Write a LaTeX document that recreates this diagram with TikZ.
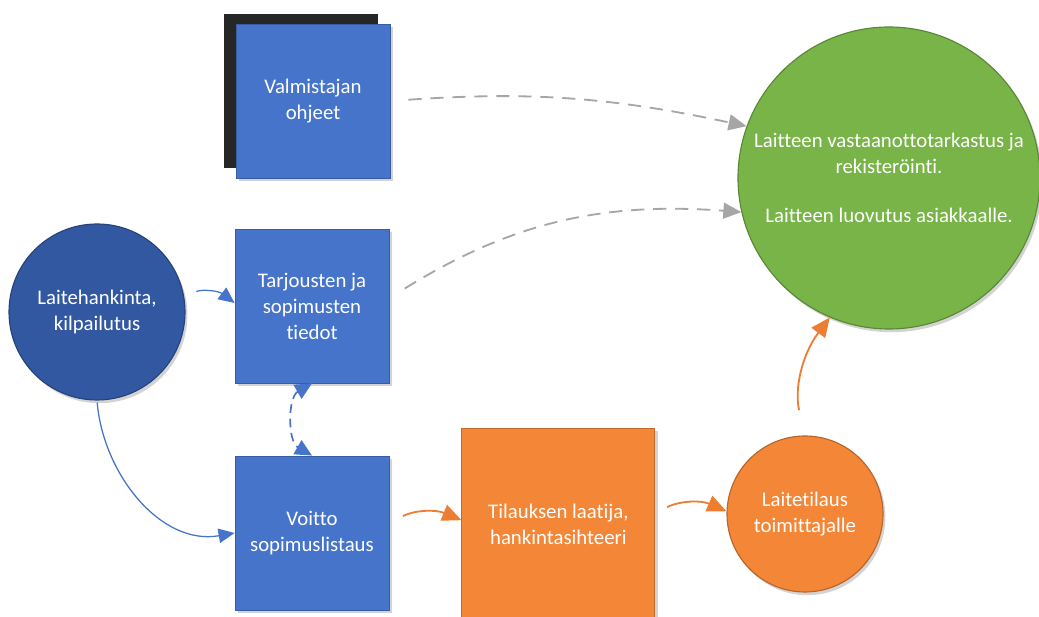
\documentclass[tikz,border=0pt]{standalone}
\usepackage{fontspec}
\setmainfont[Ligatures=NoCommon]{Carlito}
\usetikzlibrary{arrows.meta,positioning,shadows}
\definecolor{boxblue}{RGB}{70,116,202}
\definecolor{darkblue}{RGB}{50,88,162}
\definecolor{boxorange}{RGB}{243,134,55}
\definecolor{arroworange}{RGB}{237,125,49}
\definecolor{boxgreen}{RGB}{120,180,72}
\definecolor{arrowgray}{RGB}{166,166,166}

\begin{document}
\begin{tikzpicture}[
    lbl/.style={text=white, align=center, font=\fontsize{14.8}{18.5}\selectfont},
    box/.style={lbl, rectangle, minimum size=3.85cm, inner sep=0pt,
        draw=#1!80!black, line width=0.6pt, fill=#1,
        drop shadow={shadow xshift=0.07cm, shadow yshift=-0.07cm, opacity=0.35}},
    ball/.style={lbl, circle, inner sep=0pt, draw=#1!75!black, line width=0.8pt, fill=#1,
        drop shadow={shadow xshift=0.06cm, shadow yshift=-0.08cm, opacity=0.35}},
    tip/.style={-{Triangle[length=0.45cm,width=0.4cm]}},
    grayarrow/.style={tip, arrowgray, line width=1.3pt, dash pattern=on 0.33cm off 0.22cm},
    bluearrow/.style={-{Triangle[length=0.4cm,width=0.36cm]}, boxblue, line width=0.9pt},
    orangearrow/.style={-{Triangle[length=0.48cm,width=0.42cm]}, arroworange, line width=1.3pt}
]
\useasboundingbox (0,0) rectangle (25.975,15.425);

% Dark block behind the first box
\fill[black!85] (5.6,11.225) rectangle (9.45,15.075);

% Boxes
\node[box=boxblue] (valm) at (7.825,12.9) {Valmistajan\\ohjeet};
\node[box=boxblue] (tarj) at (7.8,7.775) {Tarjousten ja\\sopimusten\\tiedot};
\node[box=boxblue] (voitto) at (7.8,2.1) {Voitto\\sopimuslistaus};
\node[box=boxorange, minimum size=4.825cm] (tilaus) at (13.96,2.31) {Tilauksen laatija,\\hankintasihteeri};

% Circles
\node[ball=darkblue, minimum size=4.4cm] (laite) at (2.425,7.625) {Laitehankinta,\\kilpailutus};
\node[ball=boxorange, minimum size=3.9cm] (lt) at (20.125,2.575) {Laitetilaus\\toimittajalle};
\node[ball=boxgreen, minimum size=7.55cm] (green) at (22.225,10.975)
    {Laitteen vastaanottotarkastus ja\\rekisteröinti.\\[16pt]Laitteen luovutus asiakkaalle.};

% Connectors
\draw[grayarrow, shorten <=0.45cm] (valm.east) to[bend left=8] (green.160);
\draw[grayarrow, shorten <=0.45cm] ([yshift=0.2cm]tarj.east) to[bend left=18] (green.193);
\draw[bluearrow, shorten <=0.33cm] (laite.10) to[bend left=30] ([yshift=0.075cm]tarj.west);
\draw[bluearrow, shorten <=0.05cm] (laite.south) to[out=-85,in=190] (voitto.west);
\draw[bluearrow, line width=1.2pt, {Triangle[length=0.42cm,width=0.4cm]}-{Triangle[length=0.42cm,width=0.4cm]},
    dash pattern=on 0.22cm off 0.14cm] (tarj.south) to[bend right=60] (voitto.north);
\draw[orangearrow, shorten <=0.38cm] ([yshift=0.25cm]voitto.east) to[bend left=25] ([yshift=0.11cm]tilaus.west);
\draw[orangearrow, shorten <=0.33cm] ([yshift=0.29cm]tilaus.east) to[bend left=25] (lt.178);
\draw[orangearrow, shorten <=0.65cm] (lt.north) to[bend left=25] (green.247);
\end{tikzpicture}
\end{document}
